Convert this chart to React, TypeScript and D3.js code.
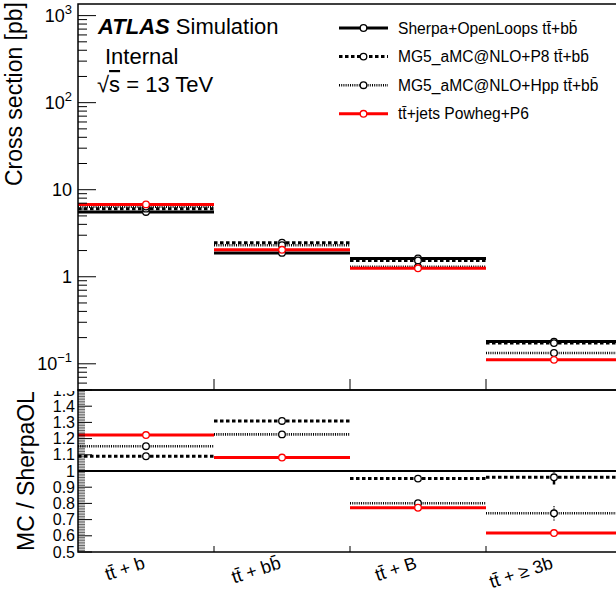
import React from "react";
import * as d3 from "d3";

// ---------- data ----------
const categories = ["tt\u0304 + b", "tt\u0304 + bb\u0304", "tt\u0304 + B", "tt\u0304 + \u2265 3b"];

const sherpaOL = [5.55, 1.88, 1.62, 0.18];
const mg5P8 = [6.06, 2.46, 1.54, 0.173];
const mg5Hpp = [6.4, 2.3, 1.3, 0.133];
const powhegP6 = [6.78, 2.04, 1.25, 0.111];

const ratioSherpa = [1, 1, 1, 1];
const ratioP8 = [1.091, 1.309, 0.953, 0.961];
const ratioHpp = [1.153, 1.226, 0.801, 0.739];
const ratioPowheg = [1.222, 1.083, 0.773, 0.617];
const ratioErrP8 = [0, 0, 0, 0.045];
const ratioErrHpp = [0, 0, 0, 0.045];

const legendLabels = [
  "Sherpa+OpenLoops tt\u0304+bb\u0304",
  "MG5_aMC@NLO+P8 tt\u0304+bb\u0304",
  "MG5_aMC@NLO+Hpp tt\u0304+bb\u0304",
  "tt\u0304+jets Powheg+P6",
];

const mainMajorTicks = [0.1, 1, 10, 100, 1000];
const mainMajorLabels: [string, string][] = [
  ["10", "\u22121"],
  ["1", ""],
  ["10", ""],
  ["10", "2"],
  ["10", "3"],
];
const ratioMajorTicks = [0.5, 0.6, 0.7, 0.8, 0.9, 1, 1.1, 1.2, 1.3, 1.4, 1.5];
const ratioMajorLabels = ["0.5", "0.6", "0.7", "0.8", "0.9", "1", "1.1", "1.2", "1.3", "1.4", "1.5"];

// ---------- styles ----------
const FONT = "'Liberation Sans', Arial, Helvetica, sans-serif";
type Style = { color: string; width: number; dash?: string };
const styles: Style[] = [
  { color: "#000", width: 3 },
  { color: "#000", width: 3, dash: "3.5 2.5" },
  { color: "#000", width: 2.6, dash: "1 1.2" },
  { color: "#ff0000", width: 3 },
];

const W = 616;
const H = 596;
const left = 78;
const right = 622;
const mainTop = 4;
const mainBottom = 390;
const ratioBottom = 552;

export default function App() {
  const x = d3.scaleLinear().domain([0, categories.length]).range([left, right]);
  const y = d3.scaleLog().domain([0.05, 1360]).range([mainBottom, mainTop]);
  const yr = d3.scaleLinear().domain([0.5, 1.5]).range([ratioBottom, mainBottom]);

  const mainSeries = [sherpaOL, mg5P8, mg5Hpp, powhegP6];
  const ratioSeries = [ratioSherpa, ratioP8, ratioHpp, ratioPowheg];
  const ratioErrs = [null, ratioErrP8, ratioErrHpp, null];

  const minorMain: number[] = [];
  for (let e = -2; e <= 3; e++) {
    for (let m = 2; m <= 9; m++) {
      const v = m * Math.pow(10, e);
      if (v >= 0.05 && v <= 1360) minorMain.push(v);
    }
  }
  const minorRatio: number[] = d3
    .range(50, 151)
    .map((v) => v / 100)
    .filter((v) => Math.round(v * 100) % 10 !== 0);

  const step = (vals: number[], sc: (v: number) => number, i: number, widthOverride?: number) => {
    const s = styles[i];
    return vals.map((v, k) => (
      <line
        key={`l${k}`}
        x1={x(k)}
        x2={x(k + 1)}
        y1={sc(v)}
        y2={sc(v)}
        stroke={s.color}
        strokeWidth={widthOverride ?? s.width}
        strokeDasharray={s.dash}
      />
    ));
  };

  return (
    <svg width={W} height={H} style={{ display: "block", position: "absolute", left: 0, top: 0 }} fontFamily={FONT}>
      <defs>
        <clipPath id="mainClip">
          <rect x={left} y={mainTop} width={right - left} height={mainBottom - mainTop} />
        </clipPath>
        <clipPath id="ratioClip">
          <rect x={left} y={mainBottom} width={right - left} height={ratioBottom - mainBottom} />
        </clipPath>
        <clipPath id="ratioLabelClip">
          <rect x={0} y={mainBottom + 1} width={left} height={40} />
        </clipPath>
      </defs>
      <rect x={0} y={0} width={W} height={H} fill="#fff" />

      {/* ---- main panel data ---- */}
      <g clipPath="url(#mainClip)">
        {mainSeries.map((vals, i) => (
          <g key={i}>{step(vals, y, i)}</g>
        ))}
        {mainSeries.map((vals, i) => (
          <g key={`m${i}`}>
            {vals.map((v, k) => (
              <circle key={k} cx={(x(k) + x(k + 1)) / 2} cy={y(v)} r={3.3} fill="#fff" stroke={styles[i].color} strokeWidth={1.3} />
            ))}
          </g>
        ))}
      </g>

      {/* ---- ratio panel data ---- */}
      <g clipPath="url(#ratioClip)">
        {ratioSeries.map((vals, i) => (
          <g key={i}>{step(vals, yr, i, i === 0 ? 2 : undefined)}</g>
        ))}
        {ratioSeries.map((vals, i) => {
          if (i === 0) return null;
          const errs = ratioErrs[i];
          return (
            <g key={`m${i}`}>
              {vals.map((v, k) => {
                const cx = (x(k) + x(k + 1)) / 2;
                const e = errs ? errs[k] : 0;
                return (
                  <g key={k}>
                    {e > 0 && (
                      <line
                        x1={cx}
                        x2={cx}
                        y1={yr(v - e)}
                        y2={yr(v + e)}
                        stroke={styles[i].color}
                        strokeWidth={i === 1 ? 2.5 : 1.5}
                        strokeDasharray={styles[i].dash}
                      />
                    )}
                    <circle cx={cx} cy={yr(v)} r={3.3} fill="#fff" stroke={styles[i].color} strokeWidth={1.3} />
                  </g>
                );
              })}
            </g>
          );
        })}
      </g>

      {/* ---- frames ---- */}
      <rect x={left} y={mainTop} width={right - left} height={mainBottom - mainTop} fill="none" stroke="#000" strokeWidth={1.5} />
      <rect x={left} y={mainBottom} width={right - left} height={ratioBottom - mainBottom} fill="none" stroke="#000" strokeWidth={1.5} />

      {/* main y ticks */}
      {mainMajorTicks.map((t, i) => (
        <g key={`mt${i}`}>
          <line x1={left} x2={left + 18} y1={y(t)} y2={y(t)} stroke="#000" strokeWidth={1} />
          <text x={72} y={y(t) + 6.5} fontSize={18} textAnchor="end">
            {mainMajorLabels[i][0]}
            {mainMajorLabels[i][1] && (
              <tspan fontSize={13} dy={-8}>
                {mainMajorLabels[i][1]}
              </tspan>
            )}
          </text>
        </g>
      ))}
      {minorMain.map((t, i) => (
        <line key={`mm${i}`} x1={left} x2={left + 9} y1={y(t)} y2={y(t)} stroke="#000" strokeWidth={1} />
      ))}

      {/* x ticks */}
      {d3.range(1, categories.length).map((k) => (
        <g key={`xt${k}`}>
          <line x1={x(k)} x2={x(k)} y1={mainBottom} y2={mainBottom - 11} stroke="#000" strokeWidth={1} />
          <line x1={x(k)} x2={x(k)} y1={ratioBottom} y2={ratioBottom - 6} stroke="#000" strokeWidth={1} />
        </g>
      ))}

      {/* ratio y ticks */}
      {ratioMajorTicks.map((t, i) => (
        <line key={`rt${i}`} x1={left} x2={left + 14} y1={yr(t)} y2={yr(t)} stroke="#000" strokeWidth={1} />
      ))}
      {minorRatio.map((t, i) => (
        <line key={`rm${i}`} x1={left} x2={left + 7} y1={yr(t)} y2={yr(t)} stroke="#000" strokeWidth={0.6} />
      ))}
      {ratioMajorTicks.map((t, i) => {
        const label = (
          <text key={`rl${i}`} x={75} y={yr(t) + 5.5} fontSize={16} textAnchor="end">
            {ratioMajorLabels[i]}
          </text>
        );
        return i === ratioMajorTicks.length - 1 ? (
          <g key={`rlg${i}`} clipPath="url(#ratioLabelClip)">
            {label}
          </g>
        ) : (
          label
        );
      })}

      {/* x labels */}
      {categories.map((c, k) => {
        const cx = (x(k) + x(k + 1)) / 2;
        return (
          <text key={`xl${k}`} transform={`translate(${cx},${568}) rotate(-18)`} fontSize={18} textAnchor="end">
            {c}
          </text>
        );
      })}

      {/* axis titles */}
      <text transform={`translate(22,${2}) rotate(-90)`} fontSize={23} textAnchor="end">
        Cross section [pb]
      </text>
      <text transform={`translate(34,${(mainBottom + ratioBottom) / 2}) rotate(-90)`} fontSize={23} textAnchor="middle">
        MC / SherpaOL
      </text>

      {/* ATLAS label */}
      <text x={98} y={34} fontSize={22}>
        <tspan fontWeight="bold" fontStyle="italic">ATLAS</tspan>
        <tspan> Simulation</tspan>
      </text>
      <text x={105} y={64} fontSize={22}>
        Internal
      </text>
      <text x={97} y={92} fontSize={22}>
        {"\u221A"}
        <tspan style={{ textDecoration: "overline" }}>s</tspan>
        {" = 13 TeV"}
      </text>

      {/* legend */}
      {legendLabels.map((lab, i) => {
        const ly = 28 + i * 28.6;
        const s = styles[i];
        return (
          <g key={`lg${i}`}>
            <line x1={339} x2={388} y1={ly} y2={ly} stroke={s.color} strokeWidth={s.width} strokeDasharray={s.dash} />
            <circle cx={363.5} cy={ly} r={3.3} fill="#fff" stroke={s.color} strokeWidth={1.3} />
            <text x={398} y={ly + 5.5} fontSize={15.6}>
              {lab}
            </text>
          </g>
        );
      })}
    </svg>
  );
}
